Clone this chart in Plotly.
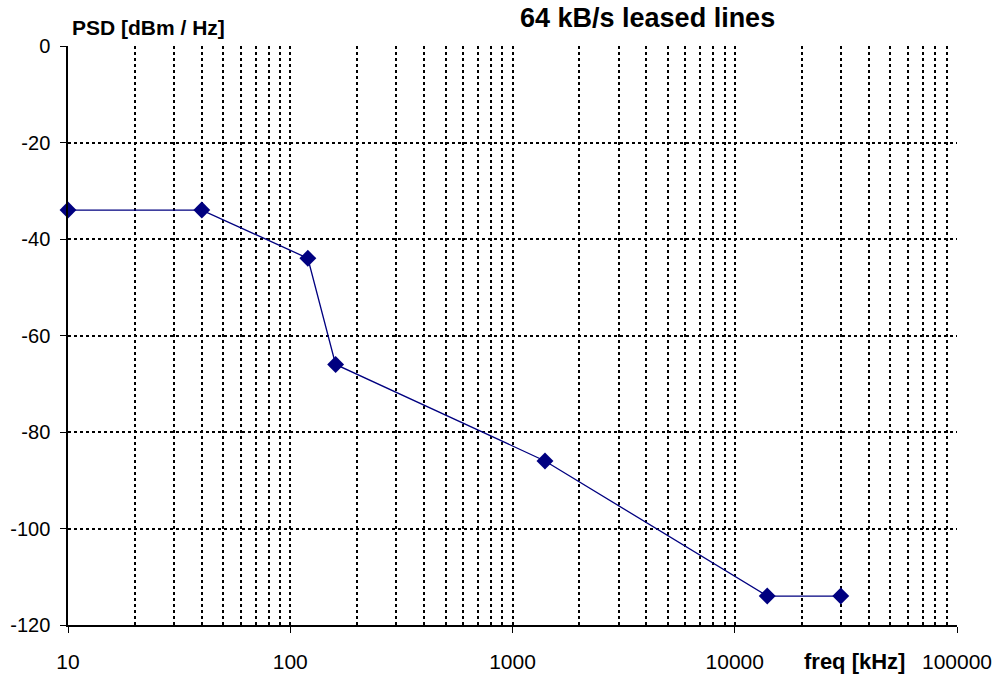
import plotly.graph_objects as go

# Power spectral density mask for 64 kB/s leased lines
freq_khz = [10, 40, 120, 160, 1400, 14000, 30000]
psd_dbm_hz = [-34, -34, -44, -66, -86, -114, -114]

x_tick_vals = [10, 100, 1000, 10000, 100000]
x_tick_text = ["10", "100", "1000", "10000", "100000"]
y_tick_vals = [0, -20, -40, -60, -80, -100, -120]
y_tick_text = ["0", "-20", "-40", "-60", "-80", "-100", "-120"]

W, H = 997, 677
L, R, T, B = 68, 40, 46, 52
PW, PH = W - L - R, H - T - B

FAMILY = "Liberation Sans, Arial, sans-serif"

fig = go.Figure()
fig.add_trace(go.Scatter(
    x=freq_khz, y=psd_dbm_hz, mode="lines+markers",
    line=dict(color="#000080", width=1.3),
    marker=dict(symbol="diamond", size=13, color="#000080"),
    showlegend=False, cliponaxis=False,
))

grid = dict(showgrid=True, gridcolor="black", gridwidth=1.5, griddash="dot")

fig.update_layout(
    width=W, height=H,
    margin=dict(l=L, r=R, t=T, b=B, autoexpand=False),
    paper_bgcolor="white", plot_bgcolor="white",
    font=dict(family=FAMILY, size=20, color="black"),
    xaxis=dict(
        type="log", range=[1, 5], automargin=False,
        tickvals=x_tick_vals, ticktext=x_tick_text,
        ticks="outside", ticklen=6, tickcolor="black", tickwidth=1,
        showline=True, linecolor="black", linewidth=1.5,
        minor=dict(dtick="D1", ticks="", **grid),
        ticklabelstandoff=11, zeroline=False,
        tickfont=dict(size=21),
        **grid,
    ),
    yaxis=dict(
        range=[-120, 0], automargin=False,
        tickvals=y_tick_vals, ticktext=y_tick_text,
        ticks="outside", ticklen=6, tickcolor="black", tickwidth=1,
        showline=True, linecolor="black", linewidth=1.5,
        zeroline=False, ticklabelstandoff=6,
        **grid,
    ),
    annotations=[
        dict(text="<b>64 kB/s leased lines</b>", xref="paper", yref="paper",
             x=(647 - L) / PW, y=1 + (T - 18) / PH,
             yanchor="middle", xanchor="center", showarrow=False,
             font=dict(family=FAMILY, size=27)),
        dict(text="<b>PSD [dBm / Hz]</b>", xref="paper", yref="paper",
             x=(70 - L) / PW, y=1 + (T - 27) / PH,
             yanchor="middle", xanchor="left", showarrow=False,
             font=dict(family=FAMILY, size=21)),
        dict(text="<b>freq [kHz]</b>", xref="paper", yref="paper",
             x=(854 - L) / PW, y=-(661 - (H - B)) / PH,
             yanchor="middle", xanchor="center", showarrow=False,
             font=dict(family=FAMILY, size=22)),
    ],
)

fig.write_html("out.html")
